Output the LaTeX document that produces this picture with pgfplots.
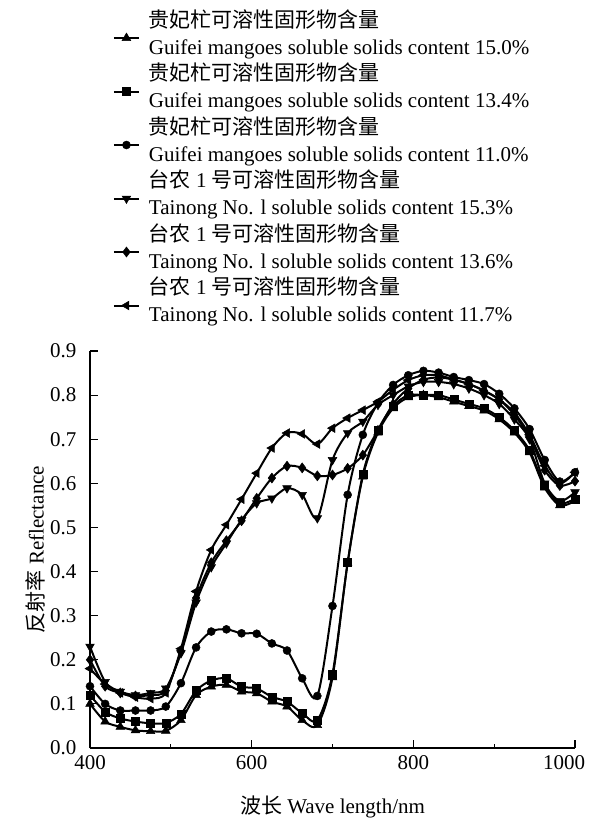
\documentclass[border=0pt]{standalone}
\usepackage{fontspec}
\setmainfont{Liberation Serif}
\newfontfamily\cjk{Noto Sans CJK SC}
\usepackage{pgfplots}
\pgfplotsset{compat=1.18}
\usepackage{pgfplotstable}

\newcommand\figfont{\fontsize{21bp}{26.7bp}\selectfont}
\newcommand\legshift{11.5bp}

% Reflectance spectra of mango samples (wavelength in nm)
\pgfplotstableread{
wl      g150  g134  g110  t153  t136  t117
400     0.100 0.120 0.140 0.230 0.200 0.180
418.75  0.060 0.082 0.100 0.150 0.140 0.145
437.5   0.048 0.067 0.085 0.128 0.125 0.125
456.25  0.040 0.060 0.085 0.120 0.118 0.115
475     0.038 0.056 0.085 0.125 0.120 0.112
493.75  0.039 0.057 0.094 0.135 0.130 0.125
512.5   0.063 0.077 0.147 0.215 0.220 0.225
531.25  0.120 0.130 0.228 0.330 0.340 0.355
550     0.139 0.153 0.264 0.410 0.420 0.449
568.75  0.143 0.158 0.269 0.464 0.470 0.506
587.5   0.128 0.139 0.260 0.517 0.515 0.564
606.25  0.124 0.135 0.259 0.555 0.566 0.623
625     0.105 0.116 0.237 0.566 0.612 0.680
643.75  0.094 0.105 0.221 0.589 0.639 0.714
662.5   0.063 0.079 0.158 0.574 0.635 0.712
681.25  0.052 0.063 0.118 0.521 0.617 0.689
700     0.160 0.168 0.322 0.653 0.619 0.725
718.75  0.420 0.420 0.574 0.714 0.634 0.748
737.5   0.615 0.620 0.710 0.740 0.664 0.766
756.25  0.715 0.720 0.782 0.778 0.720 0.785
775     0.770 0.775 0.823 0.800 0.780 0.812
793.75  0.795 0.800 0.845 0.820 0.815 0.834
812.5   0.800 0.800 0.855 0.830 0.835 0.845
831.25  0.795 0.800 0.851 0.830 0.840 0.845
850     0.785 0.790 0.841 0.825 0.835 0.835
868.75  0.775 0.780 0.834 0.815 0.825 0.825
887.5   0.765 0.770 0.825 0.800 0.810 0.810
906.25  0.745 0.750 0.803 0.780 0.790 0.790
925     0.715 0.720 0.770 0.745 0.755 0.760
943.75  0.670 0.675 0.723 0.700 0.705 0.710
962.5   0.590 0.595 0.653 0.600 0.630 0.640
981.25  0.550 0.555 0.604 0.560 0.595 0.600
1000    0.560 0.565 0.625 0.580 0.605 0.625
}\spectra

\begin{document}
\begin{tikzpicture}
\path[use as bounding box] (-90bp,-70bp) rectangle (502bp,748bp);
\begin{axis}[
  at={(0,0)}, anchor=south west,
  scale only axis, width=485bp, height=397bp,
  xmin=400, xmax=1000, ymin=0, ymax=0.9,
  axis lines=left, axis line style={-, line width=1.2pt},
  tick align=inside,
  xtick={400,600,800,1000}, minor xtick={500,700,900},
  xticklabels={400,600,800,\hspace*{-22bp}1000},
  ytick={0,0.1,0.2,0.3,0.4,0.5,0.6,0.7,0.8,0.9},
  major tick length=8bp, minor tick length=4.5bp,
  every tick/.style={black, line width=1.2pt},
  /pgf/number format/assume math mode=true,
  y tick label style={/pgf/number format/fixed, /pgf/number format/fixed zerofill, /pgf/number format/precision=1},
  tick label style={font=\figfont},
  xticklabel style={yshift=-4bp},
  yticklabel style={xshift=-10bp},
  label style={font=\figfont},
  xlabel={{\cjk 波长} Wave length/nm},
  xlabel style={yshift=-19bp},
  ylabel={{\cjk 反射率} Reflectance},
  ylabel style={yshift=-2bp},
  legend cell align=left,
  legend style={at={(axis description cs:0.049,1.861)}, anchor=north west,
    draw=none, fill=none, inner sep=0pt, font=\figfont,
    column sep=10bp, row sep=0pt,
    nodes={inner sep=0pt, text height=18bp, text depth=8.75bp}},
  legend image code/.code={%
    \path[draw=none] (0bp,0bp) -- (25bp,0bp);
    \draw[overlay, yshift=\legshift, mark repeat=2, mark phase=2]
      plot coordinates {(0bp,0bp) (12.5bp,0bp) (25bp,0bp)};},
  every axis plot/.append style={black, line width=2bp, smooth},
]
\addlegendimage{empty legend}
\addlegendentry{\cjk 贵妃杧可溶性固形物含量}
\addplot[mark=triangle*, mark size=5bp, mark options={solid, line width=0.5pt}] table[x=wl, y=g150] {\spectra};
\addlegendentry{Guifei mangoes soluble solids content 15.0\%}
\addlegendimage{empty legend}
\addlegendentry{\cjk 贵妃杧可溶性固形物含量}
\addplot[mark=square*, mark size=4bp, mark options={solid, line width=0.5pt}] table[x=wl, y=g134] {\spectra};
\addlegendentry{Guifei mangoes soluble solids content 13.4\%}
\addlegendimage{empty legend}
\addlegendentry{\cjk 贵妃杧可溶性固形物含量}
\addplot[mark=*, mark size=4bp, mark options={solid, line width=0.5pt}] table[x=wl, y=g110] {\spectra};
\addlegendentry{Guifei mangoes soluble solids content 11.0\%}
\addlegendimage{empty legend}
\addlegendentry{{\cjk 台农} 1 {\cjk 号可溶性固形物含量}}
\addplot[mark=triangle*, mark size=5bp, mark options={solid, line width=0.5pt, rotate=180}] table[x=wl, y=t153] {\spectra};
\addlegendentry{Tainong No. l soluble solids content 15.3\%}
\addlegendimage{empty legend}
\addlegendentry{{\cjk 台农} 1 {\cjk 号可溶性固形物含量}}
\addplot[mark=diamond*, mark size=5bp, mark options={solid, line width=0.5pt}] table[x=wl, y=t136] {\spectra};
\addlegendentry{Tainong No. l soluble solids content 13.6\%}
\addlegendimage{empty legend}
\addlegendentry{{\cjk 台农} 1 {\cjk 号可溶性固形物含量}}
\addplot[mark=triangle*, mark size=5bp, mark options={solid, line width=0.5pt, rotate=90}] table[x=wl, y=t117] {\spectra};
\addlegendentry{Tainong No. l soluble solids content 11.7\%}
\end{axis}
\end{tikzpicture}
\end{document}
